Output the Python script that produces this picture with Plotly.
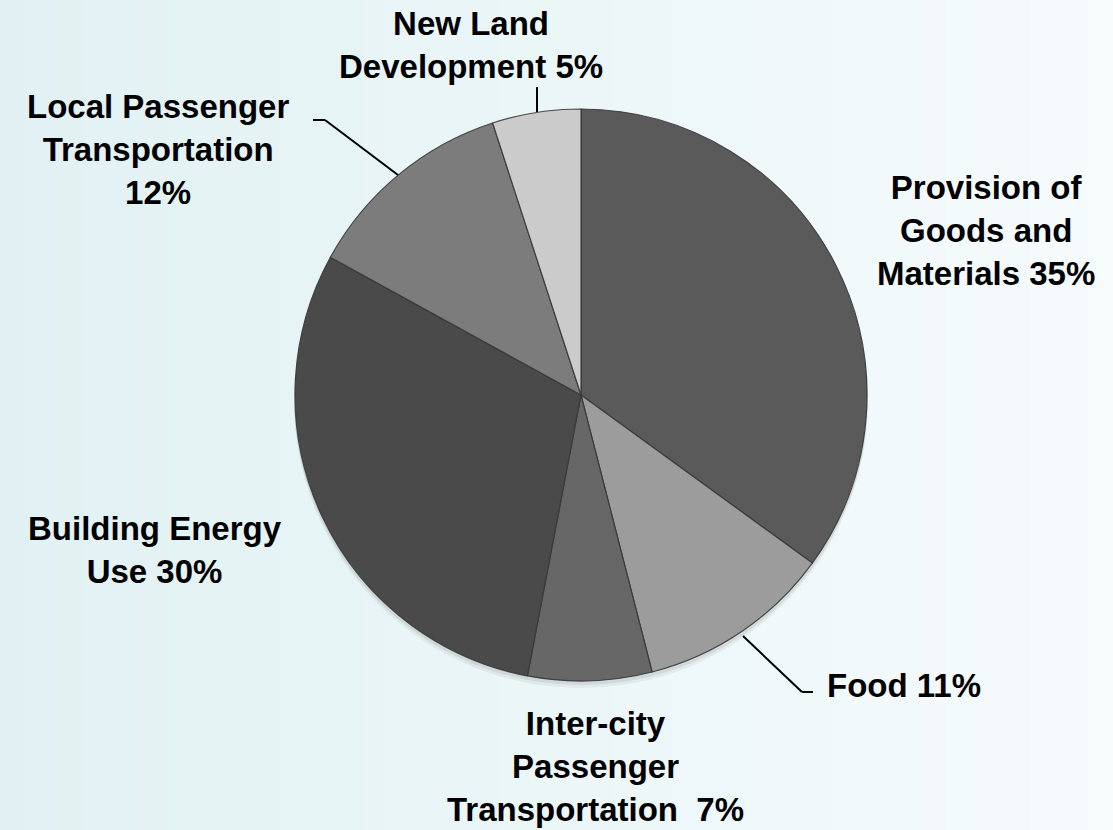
import plotly.graph_objects as go

# ---- data ----
categories = ["Provision of Goods and Materials", "Food", "Inter-city Passenger Transportation",
              "Building Energy Use", "Local Passenger Transportation", "New Land Development"]
values = [35, 11, 7, 30, 12, 5]
label_texts = ["Provision of<br>Goods and<br>Materials 35%",
               "Food 11%",
               "Inter-city<br>Passenger<br>Transportation  7%",
               "Building Energy<br>Use 30%",
               "Local Passenger<br>Transportation<br>12%",
               "New Land<br>Development 5%"]
slice_colors = ["#5a5a5a", "#9c9c9c", "#676767", "#4a4a4a", "#7c7c7c", "#cbcbcb"]

W, H = 1113, 830
cx, cy, R = 581, 395, 286

def px(x):
    return x / W

def py(y):
    return 1 - y / H

fig = go.Figure()
fig.add_trace(go.Pie(
    labels=categories, values=values, sort=False, direction="clockwise", rotation=0,
    marker=dict(colors=slice_colors, line=dict(color="rgba(55,55,55,0.9)", width=1.2)),
    textinfo="none", hoverinfo="none", showlegend=False,
    domain=dict(x=[px(cx - R), px(cx + R)], y=[py(cy + R), py(cy - R)]),
))

shapes = []
# background gradient (left light cyan -> right near-white)
n = 40
c0 = (225, 241, 243)
c1 = (246, 251, 252)
for i in range(n):
    t = i / (n - 1)
    col = tuple(round(c0[k] + (c1[k] - c0[k]) * t) for k in range(3))
    shapes.append(dict(type="rect", xref="paper", yref="paper", layer="below",
                       x0=i / n, x1=(i + 1) / n + 0.002, y0=0, y1=1,
                       fillcolor="rgb(%d,%d,%d)" % col, line=dict(width=0)))
# soft shadow under pie
for off, a in [(7, 0.05), (4, 0.07)]:
    shapes.append(dict(type="circle", xref="paper", yref="paper", layer="below",
                       x0=px(cx - R - 1), x1=px(cx + R + 1), y0=py(cy + R + off), y1=py(cy - R + off - 2),
                       fillcolor="rgba(0,0,0,%s)" % a, line=dict(width=0)))

# leader lines
def seg(x0, y0, x1, y1):
    shapes.append(dict(type="line", xref="paper", yref="paper", x0=px(x0), y0=py(y0),
                       x1=px(x1), y1=py(y1), line=dict(color="black", width=2)))

seg(537, 87, 537, 112)              # New Land
seg(313, 120, 325, 120)             # Local passenger
seg(325, 120, 398, 175)
seg(743, 636, 802, 692)             # Food
seg(802, 692, 813, 692)

# label positions (centre of text block, pixels)
label_pos = [(986, 230), (904, 685), (595, 766), (155, 550), (158, 149), (471, 45)]
annotations = []
for txt, (x, y) in zip(label_texts, label_pos):
    annotations.append(dict(text=txt, x=px(x), y=py(y), xref="paper", yref="paper",
                            showarrow=False, align="center", xanchor="center", yanchor="middle",
                            font=dict(family="Liberation Sans, Arial, sans-serif", size=33,
                                      color="black", weight="bold")))

fig.update_layout(
    width=W, height=H, margin=dict(l=0, r=0, t=0, b=0),
    paper_bgcolor="#eaf6f7", plot_bgcolor="rgba(0,0,0,0)",
    shapes=shapes, annotations=annotations, showlegend=False,
)
fig.write_html("out.html", config={"displayModeBar": False},
               post_script="document.body.style.margin='0';document.body.style.overflow='hidden';")
